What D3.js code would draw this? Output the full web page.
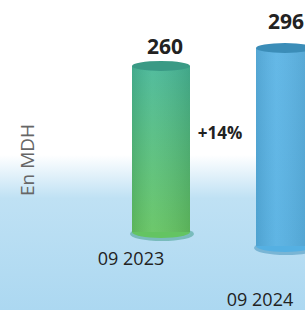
<!DOCTYPE html>
<html>
<head>
<meta charset="utf-8">
<script src="https://d3js.org/d3.v7.min.js"></script>
<style>
  body { margin: 0; }
  svg { display: block; }
</style>
</head>
<body>
<script>
var periods = ["09 2023", "09 2024"];
var values = [260, 296];
var growth = "+14%";
var unitLabel = "En MDH";

var w = 305, h = 310;
var barW = 58;

var svg = d3.select("body").append("svg")
    .attr("width", w)
    .attr("height", h)
    .style("font-family", "'Open Sans', sans-serif");

var defs = svg.append("defs");

// background: white fading into light blue
var bg = defs.append("linearGradient").attr("id", "bg")
    .attr("x1", 0).attr("y1", 0).attr("x2", 0).attr("y2", 1);
bg.append("stop").attr("offset", "0.5").attr("stop-color", "#ffffff");
bg.append("stop").attr("offset", "0.64").attr("stop-color", "#bfe1f4");
bg.append("stop").attr("offset", "1").attr("stop-color", "#acd8f1");

svg.append("rect").attr("width", w).attr("height", h).attr("fill", "url(#bg)");

// cylinder bodies
var bodyColors = [["#48b898", "#64c462"], ["#5bb4e5", "#55b0e2"]];
var capColors = ["#3a9a85", "#3b8db8"];
bodyColors.forEach(function(c, i) {
    var g = defs.append("linearGradient").attr("id", "body" + i)
        .attr("x1", 0).attr("y1", 0).attr("x2", 0).attr("y2", 1);
    g.append("stop").attr("offset", "0").attr("stop-color", c[0]);
    g.append("stop").attr("offset", "1").attr("stop-color", c[1]);
});
var shade = defs.append("linearGradient").attr("id", "shade");
shade.append("stop").attr("offset", "0").attr("stop-color", "#000").attr("stop-opacity", 0.08);
shade.append("stop").attr("offset", "0.35").attr("stop-color", "#fff").attr("stop-opacity", 0.06);
shade.append("stop").attr("offset", "1").attr("stop-color", "#000").attr("stop-opacity", 0.1);

var x = d3.scalePoint().domain(periods).range([161, 285]);
// truncated scale, as in the original picture
var y = d3.scaleLinear().domain([73, 296]).range([0, 198]);
var base = function(i) { return 232 + i * 14; };

var bars = svg.selectAll("g.bar")
    .data(values)
    .enter().append("g")
    .attr("class", "bar");

// soft shadow at the foot
bars.append("ellipse")
    .attr("cx", function(d, i) { return x(periods[i]) + 1; })
    .attr("cy", function(d, i) { return base(i) + 2; })
    .attr("rx", barW / 2 + 3)
    .attr("ry", 7)
    .attr("fill", function(d, i) { return capColors[i]; })
    .attr("opacity", 0.5);

bars.append("ellipse")
    .attr("cx", function(d, i) { return x(periods[i]); })
    .attr("cy", function(d, i) { return base(i); })
    .attr("rx", barW / 2)
    .attr("ry", 6)
    .attr("fill", function(d, i) { return bodyColors[i][1]; });

bars.append("rect")
    .attr("x", function(d, i) { return x(periods[i]) - barW / 2; })
    .attr("y", function(d, i) { return base(i) - y(d); })
    .attr("width", barW)
    .attr("height", function(d) { return y(d); })
    .attr("fill", function(d, i) { return "url(#body" + i + ")"; });

bars.append("rect")
    .attr("x", function(d, i) { return x(periods[i]) - barW / 2; })
    .attr("y", function(d, i) { return base(i) - y(d); })
    .attr("width", barW)
    .attr("height", function(d) { return y(d); })
    .attr("fill", "url(#shade)");

// top cap
bars.append("ellipse")
    .attr("cx", function(d, i) { return x(periods[i]); })
    .attr("cy", function(d, i) { return base(i) - y(d); })
    .attr("rx", barW / 2)
    .attr("ry", 5)
    .attr("fill", function(d, i) { return capColors[i]; });

// value labels
bars.append("text")
    .attr("x", function(d, i) { return x(periods[i]) + 4 - i * 3; })
    .attr("y", function(d, i) { return base(i) - y(d) - 12 - i * 7; })
    .attr("text-anchor", "middle")
    .attr("font-size", 21)
    .attr("font-weight", "bold")
    .attr("fill", "#222")
    .text(function(d) { return d; });

// period labels under the bars
bars.append("text")
    .attr("x", function(d, i) { return x(periods[i]) - 30 + i * 5; })
    .attr("y", function(d, i) { return base(i) + 33 + i * 27; })
    .attr("text-anchor", "middle")
    .attr("font-size", 18)
    .attr("fill", "#222")
    .text(function(d, i) { return periods[i]; });

// growth label between the bars
svg.append("text")
    .attr("x", (x(periods[0]) + x(periods[1])) / 2 - 3)
    .attr("y", 139)
    .attr("text-anchor", "middle")
    .attr("font-size", 17)
    .attr("font-weight", "bold")
    .attr("fill", "#222")
    .text(growth);

svg.append("text")
    .attr("transform", "translate(34,160) rotate(-90)")
    .attr("text-anchor", "middle")
    .attr("font-size", 19)
    .attr("fill", "#666")
    .text(unitLabel);
</script>
</body>
</html>
